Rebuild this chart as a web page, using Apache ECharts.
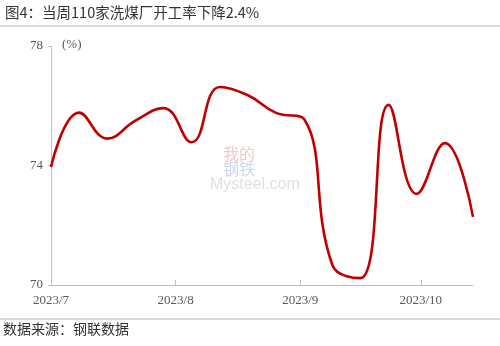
<!DOCTYPE html>
<html>
<head>
<meta charset="utf-8">
<script src="https://cdn.jsdelivr.net/npm/echarts@6/dist/echarts.min.js"></script>
<style>
html,body{margin:0;padding:0;background:#fff;}
#c{width:500px;height:346px;}
</style>
</head>
<body>
<div id="c"></div>
<script>
// Weekly dates and values (%)
const dates = ['2023-07-01','2023-07-08','2023-07-15','2023-07-22','2023-07-29','2023-08-05','2023-08-12','2023-08-19','2023-08-26','2023-09-02','2023-09-09','2023-09-16','2023-09-23','2023-09-30','2023-10-07','2023-10-14'];
const values = [73.95,75.77,74.9,75.5,75.92,74.78,76.63,76.35,75.76,75.55,70.67,70.23,76.03,73.05,74.75,72.28];
const monthTicks = ['2023-07-01','2023-08-01','2023-09-01','2023-10-01'];
const monthLabels = ['2023/7','2023/8','2023/9','2023/10'];
const yTicks = [70,74,78];
const titleText = '图4：当周110家洗煤厂开工率下降2.4%';
const sourceText = '数据来源：钢联数据';

// day offset from first date
const DAY = 86400000;
const base = Date.UTC(2023,6,1);
const d2n = s => { const p = s.split('-').map(Number); return (Date.UTC(p[0],p[1]-1,p[2]) - base)/DAY; };
const tickVals = monthTicks.map(d2n);

const chart = echarts.init(document.getElementById('c'), null, {renderer:'canvas'});
const serif = '"Liberation Serif","Times New Roman",serif';
const cjk = '"Noto Sans CJK SC",sans-serif';

chart.setOption({
  animation:false,
  backgroundColor:'#fff',
  grid:{left:51,right:27,top:46,bottom:61},
  xAxis:{
    type:'value',
    min:d2n(dates[0]),
    max:d2n(dates[dates.length-1]),
    axisLine:{lineStyle:{color:'#bfbfbf',width:1}},
    axisTick:{show:true,inside:true,length:5,lineStyle:{color:'#bfbfbf'},customValues:tickVals.slice(1)},
    axisLabel:{
      customValues:tickVals,
      formatter:function(v){const i=tickVals.indexOf(v);return i>=0?monthLabels[i]:'';},
      fontFamily:serif,fontSize:13,color:'#595959',margin:9
    },
    splitLine:{show:false}
  },
  yAxis:{
    type:'value',min:yTicks[0],max:yTicks[yTicks.length-1],interval:4,
    axisLine:{show:true,lineStyle:{color:'#bfbfbf',width:1}},
    axisTick:{show:true,length:3,lineStyle:{color:'#bfbfbf'}},
    axisLabel:{fontFamily:serif,fontSize:13,color:'#595959',margin:8},
    splitLine:{show:false}
  },
  graphic:[
    {type:'text',left:5,top:5,style:{text:titleText,font:'14.5px '+cjk,fill:'#333'}},
    {type:'line',shape:{x1:0,y1:26,x2:500,y2:26},style:{stroke:'#a9b7c9',lineWidth:1.2}},
    {type:'line',shape:{x1:0,y1:319,x2:500,y2:319},style:{stroke:'#a9b7c9',lineWidth:1.2}},
    {type:'text',left:3,top:322,style:{text:sourceText,font:'14px '+cjk,fill:'#333'}},
    {type:'text',left:62,top:38,style:{text:'(%)',font:'13px '+serif,fill:'#595959'}},
    {type:'text',left:223,top:146,z:-1,style:{text:'我的',font:'16px '+cjk,fill:'#f4c9c9'}},
    {type:'text',left:223,top:161,z:-1,style:{text:'钢铁',font:'16px '+cjk,fill:'#cdd7ea'}},
    {type:'text',left:210,top:177,z:-1,style:{text:'Mysteel.com',font:'16px "Liberation Sans",Arial,sans-serif',fill:'#e0e0e0'}}
  ],
  series:[{
    type:'line',
    data:dates.map((d,i)=>[d2n(d),values[i]]),
    smooth:0.45,
    symbol:'none',
    lineStyle:{color:'#c00000',width:2.6}
  }]
});
</script>
</body>
</html>
